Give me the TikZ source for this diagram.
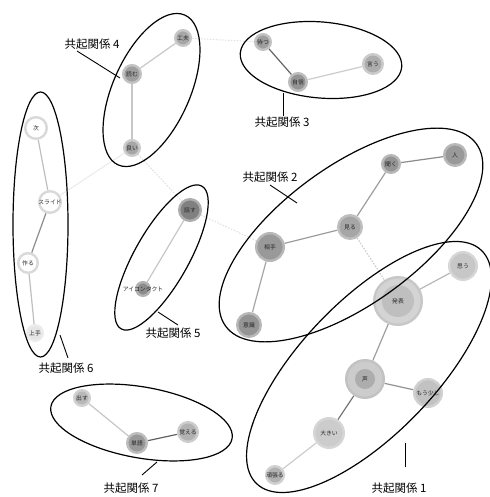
\documentclass[tikz,border=0pt]{standalone}
\usepackage{fontspec}
\setmainfont{Noto Sans CJK JP}
\usetikzlibrary{backgrounds}
\tikzset{
  nodetext/.style={font=\fontsize{5.8}{6}\selectfont, text=black!85, inner sep=0pt, draw=none, fill=none},
  nd/.style n args={4}{circle, inner sep=0pt, minimum size={2*#1pt-2.4pt}, fill=#2, draw=#3, line width=2.4pt, label={[nodetext]center:#4}},
  inr/.style 2 args={path picture={\fill[#1] (path picture bounding box.center) circle (#2pt);}},
  ed/.style={line width=1.2pt, draw=#1},
  fnt/.style={line width=1pt, draw=black!12, dash pattern=on 1.5pt off 1.5pt},
  ell/.style={draw=black, line width=1.2pt},
  grp/.style={font=\fontsize{11.5}{13}\selectfont, inner sep=0pt},
  lead/.style={draw=black, line width=0.9pt},
}
\begin{document}
\begin{tikzpicture}[x=1pt,y=-1pt]
\begin{pgfonlayer}{background}
\fill[white] (0,0) rectangle (489,497);
\end{pgfonlayer}
\useasboundingbox (0,0) rectangle (489,497);
% nodes
\node[nd={9}{black!35}{black!22}{工夫}] (kufu) at (183,38) {};
\node[nd={10}{black!38}{black!24}{読む}] (yomu) at (132,74) {};
\node[nd={9}{black!35}{black!20}{良い}] (yoi) at (132,148) {};
\node[nd={9}{black!38}{black!24}{待つ}] (matsu) at (263,42) {};
\node[nd={10}{black!42}{black!26}{自信}] (jishin) at (298,82) {};
\node[nd={11}{black!32}{black!20}{言う}] (iu) at (373,64) {};
\node[nd={10}{black!42}{black!28}{聞く}] (kiku) at (391,164) {};
\node[nd={12}{black!40}{black!28}{人}] (hito) at (455,155) {};
\node[nd={13}{black!35}{black!25}{見る}] (miru) at (350,227) {};
\node[nd={15}{black!40}{black!28}{相手}] (aite) at (270,247) {};
\node[nd={13}{black!42}{black!28}{意識}] (ishiki) at (249,325) {};
\node[nd={12}{black!50}{black!32}{話す}] (hanasu) at (190,210) {};
\node[nd={8}{black!45}{black!30}{アイコンタクト}] (eye) at (143,289) {};
\node[nd={12}{white}{black!15}{次}] (tsugi) at (36,128) {};
\node[nd={12}{white}{black!15}{スライド}] (slide) at (50,202) {};
\node[nd={11}{white}{black!15}{作る}] (tsukuru) at (28,263) {};
\node[nd={9}{black!10}{black!8}{上手}] (jouzu) at (35,333) {};
\node[nd={25}{black!17}{black!22}{発表}, inr={black!25}{16}] (happyou) at (398,301) {};
\node[nd={15}{black!22}{black!16}{思う}] (omou) at (463,266) {};
\node[nd={20}{black!20}{black!24}{声}, inr={black!32}{10}] (koe) at (365,379) {};
\node[nd={15}{black!24}{black!18}{もう少し}] (moushi) at (428,393) {};
\node[nd={16}{black!20}{black!16}{大きい}] (ookii) at (329,433) {};
\node[nd={10}{black!30}{black!18}{頑張る}] (ganbaru) at (275,475) {};
\node[nd={9}{black!28}{black!18}{出す}] (dasu) at (82,398) {};
\node[nd={11}{black!40}{black!26}{単語}] (tango) at (137,443) {};
\node[nd={11}{black!30}{black!20}{覚える}] (oboeru) at (188,432) {};
% edges
\begin{pgfonlayer}{background}
\draw[fnt] (kufu) -- (matsu);
\draw[fnt] (hanasu) -- (aite);
\draw[fnt, draw=black!22] (miru) -- (happyou);
\draw[fnt] (yoi) -- (hanasu);
\draw[line width=1pt, draw=black!8] (yoi) -- (slide);
\draw[ed=black!22] (kufu) -- (yomu);
\draw[ed=black!22, line width=1.8pt] (yomu) -- (yoi);
\draw[ed=black!60] (matsu) -- (jishin);
\draw[ed=black!20] (jishin) -- (iu);
\draw[ed=black!45] (kiku) -- (hito);
\draw[ed=black!38] (kiku) -- (miru);
\draw[ed=black!40] (miru) -- (aite);
\draw[ed=black!35] (aite) -- (ishiki);
\draw[ed=black!22] (hanasu) -- (eye);
\draw[ed=black!25] (tsugi) -- (slide);
\draw[ed=black!45] (slide) -- (tsukuru);
\draw[ed=black!25] (tsukuru) -- (jouzu);
\draw[ed=black!28] (happyou) -- (omou);
\draw[ed=black!38] (happyou) -- (koe);
\draw[ed=black!42] (koe) -- (moushi);
\draw[ed=black!55] (koe) -- (ookii);
\draw[ed=black!20] (ookii) -- (ganbaru);
\draw[ed=black!22] (dasu) -- (tango);
\draw[ed=black!62] (tango) -- (oboeru);
\end{pgfonlayer}
% ellipses
\draw[ell, rotate around={46:(369,367)}] (369,367) ellipse [x radius=162pt, y radius=67pt];
\draw[ell, rotate around={36:(351,235)}] (351,235) ellipse [x radius=155pt, y radius=69pt];
\draw[ell, rotate around={-5:(321,60)}] (321,60) ellipse [x radius=81pt, y radius=38pt];
\draw[ell, rotate around={66:(151.5,90)}] (151.5,90) ellipse [x radius=82pt, y radius=38.5pt];
\draw[ell, rotate around={60.5:(161.5,257.5)}] (161.5,257.5) ellipse [x radius=82pt, y radius=27pt];
\draw[ell] (40.5,224.5) ellipse [x radius=27.5pt, y radius=132.5pt];
\draw[ell, rotate around={-10:(141.5,422.5)}] (141.5,422.5) ellipse [x radius=92pt, y radius=35.5pt];
% group labels
\node[grp] (g1) at (399,488) {共起関係 1};
\node[grp] (g2) at (270,177) {共起関係 2};
\node[grp] (g3) at (282,122) {共起関係 3};
\node[grp] (g4) at (92,44) {共起関係 4};
\node[grp] (g5) at (173,333) {共起関係 5};
\node[grp] (g6) at (66,368) {共起関係 6};
\node[grp] (g7) at (131,488) {共起関係 7};
\coordinate (a1) at (405,467); \coordinate (b1) at (405,443);
\coordinate (a2) at (270,185); \coordinate (b2) at (297,203);
\coordinate (a3) at (283,116); \coordinate (b3) at (283,93);
\coordinate (a4) at (77,51);  \coordinate (b4) at (120,78);
\coordinate (a5) at (178,325); \coordinate (b5) at (158,312);
\coordinate (a6) at (68,358); \coordinate (b6) at (60,335);
\coordinate (a7) at (142,475); \coordinate (b7) at (157,462);
\draw[lead] (a1) -- (b1);
\draw[lead] (a2) -- (b2);
\draw[lead] (a3) -- (b3);
\draw[lead] (a4) -- (b4);
\draw[lead] (a5) -- (b5);
\draw[lead] (a6) -- (b6);
\draw[lead] (a7) -- (b7);
\end{tikzpicture}
\end{document}
